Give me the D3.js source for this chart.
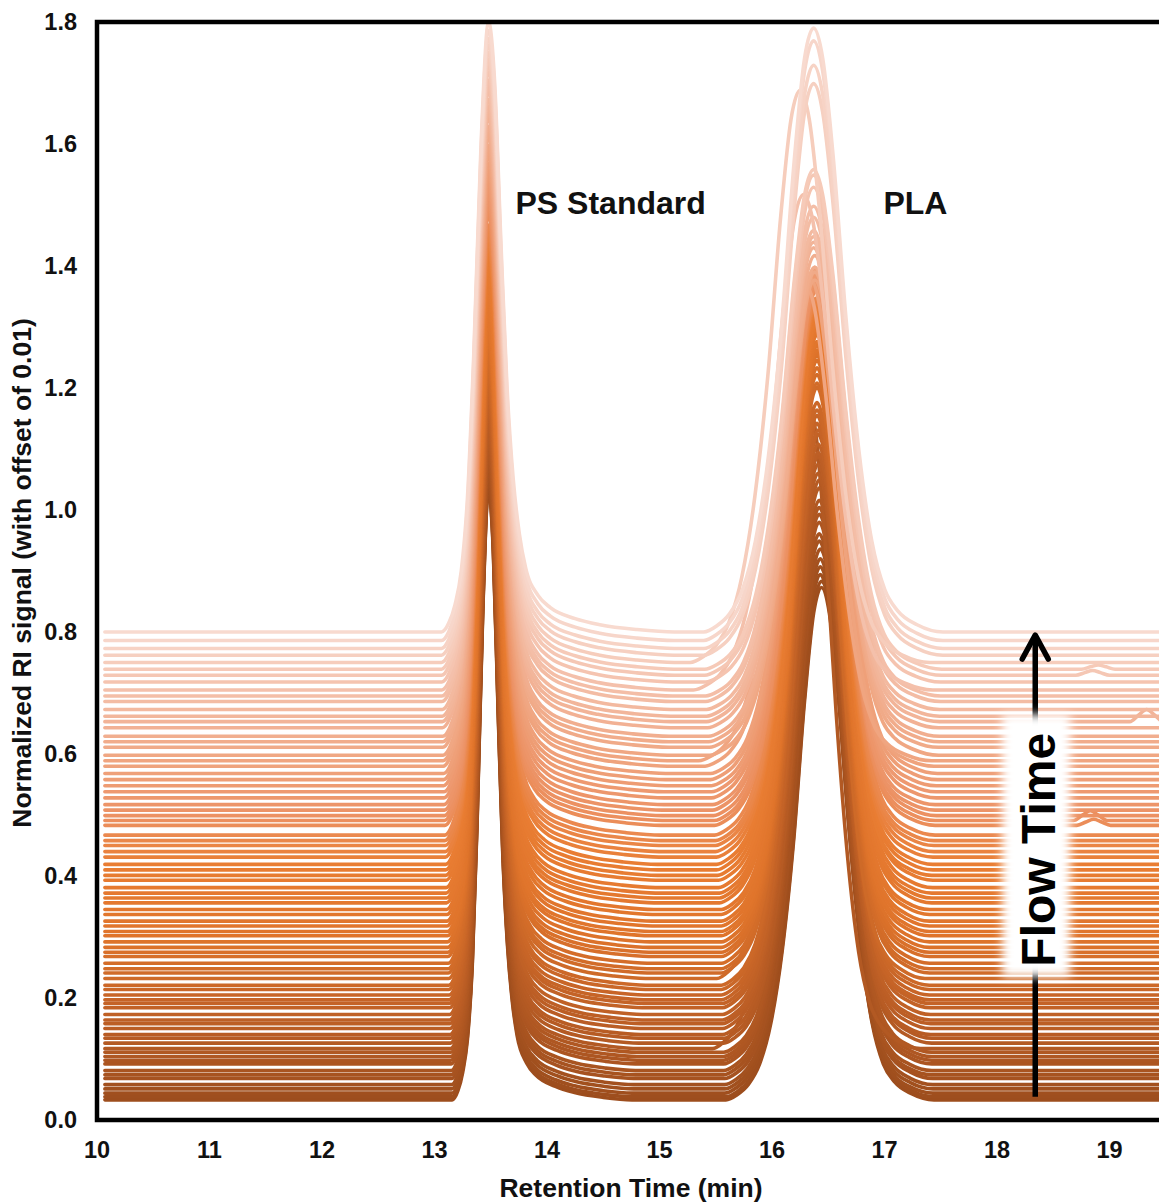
<!DOCTYPE html>
<html><head><meta charset="utf-8">
<script src="https://cdn.jsdelivr.net/npm/d3@7"></script>
<style>body{margin:0;background:#fff}</style>
</head><body><svg id="c" width="1159" height="1204"></svg>
<script>
// ---- data; index 0 = first run (bottom trace) ----
const baselines = [
0.033,0.038,0.044,0.051,0.058,0.068,0.074,0.081,0.092,0.098,
0.104,0.111,0.117,0.126,0.134,0.140,0.150,0.158,0.164,0.173,
0.184,0.191,0.197,0.205,0.214,0.221,0.232,0.241,0.248,0.257,
0.268,0.275,0.283,0.292,0.302,0.309,0.318,0.326,0.337,0.345,
0.356,0.364,0.372,0.381,0.393,0.401,0.410,0.419,0.431,0.440,
0.450,0.458,0.467,0.483,0.491,0.499,0.508,0.517,0.528,0.538,
0.548,0.558,0.568,0.580,0.589,0.598,0.611,0.620,0.629,0.643,
0.653,0.662,0.673,0.686,0.695,0.705,0.718,0.729,0.739,0.750,
0.762,0.773,0.786,0.800];
const plaHeights = [
0.840,0.845,0.850,0.856,0.862,0.868,0.875,0.880,0.888,0.895,
0.900,0.905,1.060,0.910,0.915,0.920,0.925,0.930,0.930,0.935,
0.940,0.940,0.945,0.950,0.950,0.955,1.110,0.960,0.960,0.965,
0.965,0.970,0.970,0.965,0.960,0.960,0.955,0.950,0.950,0.945,
0.940,0.935,0.930,0.925,0.920,0.915,0.910,0.905,0.900,0.895,
0.890,0.885,0.880,0.875,0.870,0.865,0.860,0.855,0.850,0.845,
0.840,0.835,0.830,0.800,0.780,0.779,0.779,0.778,0.788,0.787,
0.786,0.786,0.785,0.794,0.803,0.812,0.811,0.820,0.819,0.938,
0.937,0.956,0.983,0.990];
const plaApex = [
16.44,16.44,16.43,16.43,16.43,16.43,16.42,16.42,16.42,16.42,
16.42,16.42,16.32,16.42,16.42,16.41,16.41,16.41,16.41,16.41,
16.41,16.41,16.40,16.40,16.40,16.40,16.36,16.40,16.40,16.40,
16.40,16.40,16.40,16.40,16.40,16.40,16.40,16.40,16.40,16.40,
16.40,16.40,16.40,16.40,16.40,16.39,16.39,16.39,16.39,16.39,
16.39,16.39,16.39,16.39,16.39,16.39,16.38,16.38,16.38,16.38,
16.38,16.38,16.38,16.34,16.30,16.38,16.38,16.38,16.38,16.37,
16.37,16.37,16.37,16.37,16.37,16.28,16.37,16.37,16.37,16.25,
16.37,16.37,16.37,16.37];
const psWidths = [
0.85,0.85,0.85,0.86,0.86,0.86,0.87,0.87,0.87,0.88,
0.88,0.88,0.89,0.89,0.89,0.90,0.90,0.90,0.91,0.91,
0.91,0.92,0.92,0.92,0.93,0.93,0.93,0.94,0.94,0.94,
0.95,0.95,0.95,0.96,0.96,0.96,0.97,0.97,0.97,0.98,
0.98,0.98,0.99,0.99,0.99,1.00,1.00,1.00,1.01,1.01,
1.01,1.02,1.02,1.02,1.03,1.03,1.03,1.04,1.04,1.04,
1.05,1.05,1.05,1.06,1.06,1.06,1.07,1.07,1.07,1.08,
1.08,1.08,1.08,1.09,1.09,1.09,1.09,1.10,1.10,1.10,
1.10,1.10,1.10,1.10];
const plaWidths = [
1.00,1.00,1.00,1.00,1.00,1.00,1.00,1.00,1.00,1.00,
1.00,1.00,1.00,1.00,1.00,1.00,1.00,1.00,1.00,1.00,
1.00,1.00,1.00,1.00,1.00,1.00,1.00,1.00,1.00,1.00,
1.00,1.00,1.00,1.00,1.00,1.00,1.00,1.00,1.00,1.00,
1.02,1.02,1.02,1.03,1.03,1.03,1.04,1.04,1.04,1.05,
1.05,1.05,1.06,1.06,1.06,1.07,1.07,1.07,1.08,1.08,
1.08,1.09,1.09,1.10,1.12,1.10,1.10,1.11,1.11,1.11,
1.12,1.12,1.12,1.13,1.13,1.15,1.13,1.14,1.14,1.15,
1.15,1.15,1.15,1.15];
// normalized peak shapes (time from apex, min)
const psApex = 13.48;
const psHeight = 1.0;
const psDt    = [-0.38,-0.32,-0.27,-0.22,-0.17,-0.12,-0.06,0,0.05,0.10,0.15,0.20,0.25,0.30,0.40,0.50,0.70,0.90,1.20,1.50];
const psShape = [0,0.015,0.045,0.100,0.220,0.450,0.800,1,0.900,0.640,0.400,0.250,0.160,0.105,0.060,0.040,0.022,0.012,0.004,0];
const plaDt    = [-0.85,-0.75,-0.65,-0.55,-0.45,-0.35,-0.25,-0.15,-0.07,0,0.07,0.15,0.25,0.35,0.45,0.55,0.65,0.80,1.00];
const plaShape = [0,0.010,0.030,0.070,0.150,0.290,0.500,0.780,0.950,1,0.950,0.790,0.520,0.300,0.150,0.070,0.035,0.012,0];
// small late bumps
const bumpTrace  = [77,78,70,54,53];
const bumpTime   = [18.85,18.90,19.33,18.83,18.86];
const bumpHeight = [0.008,0.007,0.020,0.016,0.010];
const bumpDt    = [-0.15,-0.07,0,0.07,0.15];
const bumpShape = [0,0.55,1,0.55,0];
const traceStart = 10.07, traceEnd = 20;
const xTicks = [10,11,12,13,14,15,16,17,18,19];
const yTicks = [0,0.2,0.4,0.6,0.8,1.0,1.2,1.4,1.6,1.8];

// ---- drawing ----
const svg = d3.select("#c");
const x = d3.scaleLinear().domain([10,20]).range([97,1222]);
const y = d3.scaleLinear().domain([0,1.8]).range([1120,22]);
const color = d3.scaleLinear()
  .domain([0.03,0.15,0.30,0.42,0.50,0.60,0.70,0.80])
  .range(["#9C4D1D","#BA5D25","#DF742B","#E97D33","#EC9163","#F0A784","#F4BFA9","#F8DACF"])
  .interpolate(d3.interpolateRgb);

const line = d3.line().x(d=>x(d[0])).y(d=>y(d[1])).curve(d3.curveMonotoneX);

const traces = baselines.map((b,i)=>{
  const pts = [[traceStart,b]];
  psDt.forEach((d,k)=>pts.push([psApex + d*psWidths[i], b + psHeight*psShape[k]]));
  plaDt.forEach((d,k)=>pts.push([plaApex[i] + d*plaWidths[i], b + plaHeights[i]*plaShape[k]]));
  bumpTrace.forEach((t,j)=>{ if(t===i) bumpDt.forEach((d,k)=>pts.push([bumpTime[j]+d, b + bumpHeight[j]*bumpShape[k]])); });
  pts.push([traceEnd,b]);
  pts.sort((a,c)=>a[0]-c[0]);
  return {b, pts, i};
});

const defs = svg.append("defs");
defs.append("clipPath").attr("id","clip").append("rect")
  .attr("x",x(10)).attr("y",y(1.8)-2).attr("width",x(20)-x(10)).attr("height",y(0)-y(1.8)+2);
const f = defs.append("filter").attr("id","glow").attr("x","-50%").attr("y","-50%").attr("width","200%").attr("height","200%");
f.append("feGaussianBlur").attr("stdDeviation",5);

svg.append("g").attr("clip-path","url(#clip)")
  .selectAll("path").data(traces).join("path")
  .attr("d",d=>line(d.pts))
  .attr("fill","none")
  .attr("stroke",d=>color(d.b))
  .attr("stroke-width",3.6)
  .attr("stroke-linecap","round")
  .attr("stroke-linejoin","round");

// frame
svg.append("path")
  .attr("d",`M${x(20)},${y(1.8)}H${x(10)}V${y(0)}H${x(20)}`)
  .attr("fill","none").attr("stroke","#000").attr("stroke-width",4.5);

const font = "'Liberation Sans', Arial, sans-serif";
// y tick labels
svg.append("g").selectAll("text").data(yTicks).join("text")
  .attr("x",77).attr("y",d=>y(d)).attr("dy","0.35em")
  .attr("text-anchor","end").attr("font-family",font).attr("font-weight","bold")
  .attr("font-size",23.5).attr("fill","#111").text(d=>d.toFixed(1));
// x tick labels
svg.append("g").selectAll("text").data(xTicks).join("text")
  .attr("x",d=>x(d)).attr("y",1150).attr("dy","0.35em")
  .attr("text-anchor","middle").attr("font-family",font).attr("font-weight","bold")
  .attr("font-size",23.5).attr("fill","#111").text(d=>d);
// axis titles
svg.append("text").attr("x",631).attr("y",1188).attr("dy","0.35em")
  .attr("text-anchor","middle").attr("font-family",font).attr("font-weight","bold")
  .attr("font-size",26.5).attr("fill","#111").text("Retention Time (min)");
svg.append("text").attr("transform","translate(22,573) rotate(-90)").attr("dy","0.35em")
  .attr("text-anchor","middle").attr("font-family",font).attr("font-weight","bold")
  .attr("font-size",26.5).attr("fill","#111").text("Normalized RI signal (with offset of 0.01)");
// peak labels
svg.append("text").attr("x",x(13.72)).attr("y",y(1.503)).attr("dy","0.35em")
  .attr("font-family",font).attr("font-weight","bold").attr("font-size",32).attr("fill","#111").text("PS Standard");
svg.append("text").attr("x",x(16.99)).attr("y",y(1.503)).attr("dy","0.35em")
  .attr("font-family",font).attr("font-weight","bold").attr("font-size",32).attr("fill","#111").text("PLA");

// flow-time arrow
const ax = x(18.34);
svg.append("line").attr("x1",ax).attr("x2",ax).attr("y1",y(0.038)).attr("y2",y(0.795))
  .attr("stroke","#000").attr("stroke-width",5.5);
svg.append("path").attr("d",`M${ax-13},${y(0.795)+24}L${ax},${y(0.795)}L${ax+13},${y(0.795)+24}`)
  .attr("fill","none").attr("stroke","#000").attr("stroke-width",5.5).attr("stroke-linecap","round").attr("stroke-linejoin","round");
svg.append("rect").attr("x",ax-33).attr("y",y(0.665)).attr("width",68).attr("height",y(0.235)-y(0.665))
  .attr("fill","#fff").attr("filter","url(#glow)");
svg.append("text").attr("transform",`translate(${ax+3},${y(0.443)}) rotate(-90)`).attr("dy","0.35em")
  .attr("text-anchor","middle").attr("font-family",font).attr("font-weight","bold")
  .attr("font-size",48).attr("fill","#000").text("Flow Time");
</script></body></html>
